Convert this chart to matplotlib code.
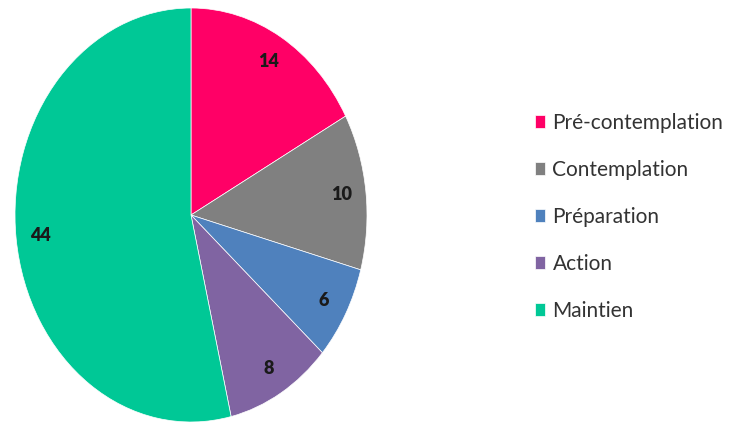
import matplotlib.pyplot as plt

# stages of change, counts per stage
stages = ['Pré-contemplation', 'Contemplation', 'Préparation', 'Action', 'Maintien']
counts = [14, 10, 6, 8, 44]
colors = ['#FF0066', '#808080', '#4F81BD', '#8064A2', '#00C896']

plt.rcParams['font.family'] = ['Lato', 'DejaVu Sans']

fig = plt.figure(figsize=(7.35, 4.25), dpi=100)
# pie is stretched vertically, so the axes box is not square
ax = fig.add_axes([15 / 735, 3 / 425, 352 / 735, 414 / 425])

wedges, texts, autotexts = ax.pie(
    counts, colors=colors, startangle=90, counterclock=False,
    autopct=lambda p: f'{p * sum(counts) / 100:.0f}', pctdistance=0.86,
    wedgeprops=dict(edgecolor='white', linewidth=0.5),
    textprops=dict(fontsize=13, fontweight='heavy', color='#1a1a1a'))
ax.set_aspect('auto')
ax.set_xlim(-1, 1)
ax.set_ylim(-1, 1)

fig.legend(wedges, stages, loc='upper left', bbox_to_anchor=(516 / 735, 1 - 94 / 425),
           frameon=False, fontsize=15, handlelength=0.5, handleheight=0.6,
           handletextpad=0.35, labelspacing=1.3, labelcolor='#333333')

fig.savefig('out.png', dpi=100)
